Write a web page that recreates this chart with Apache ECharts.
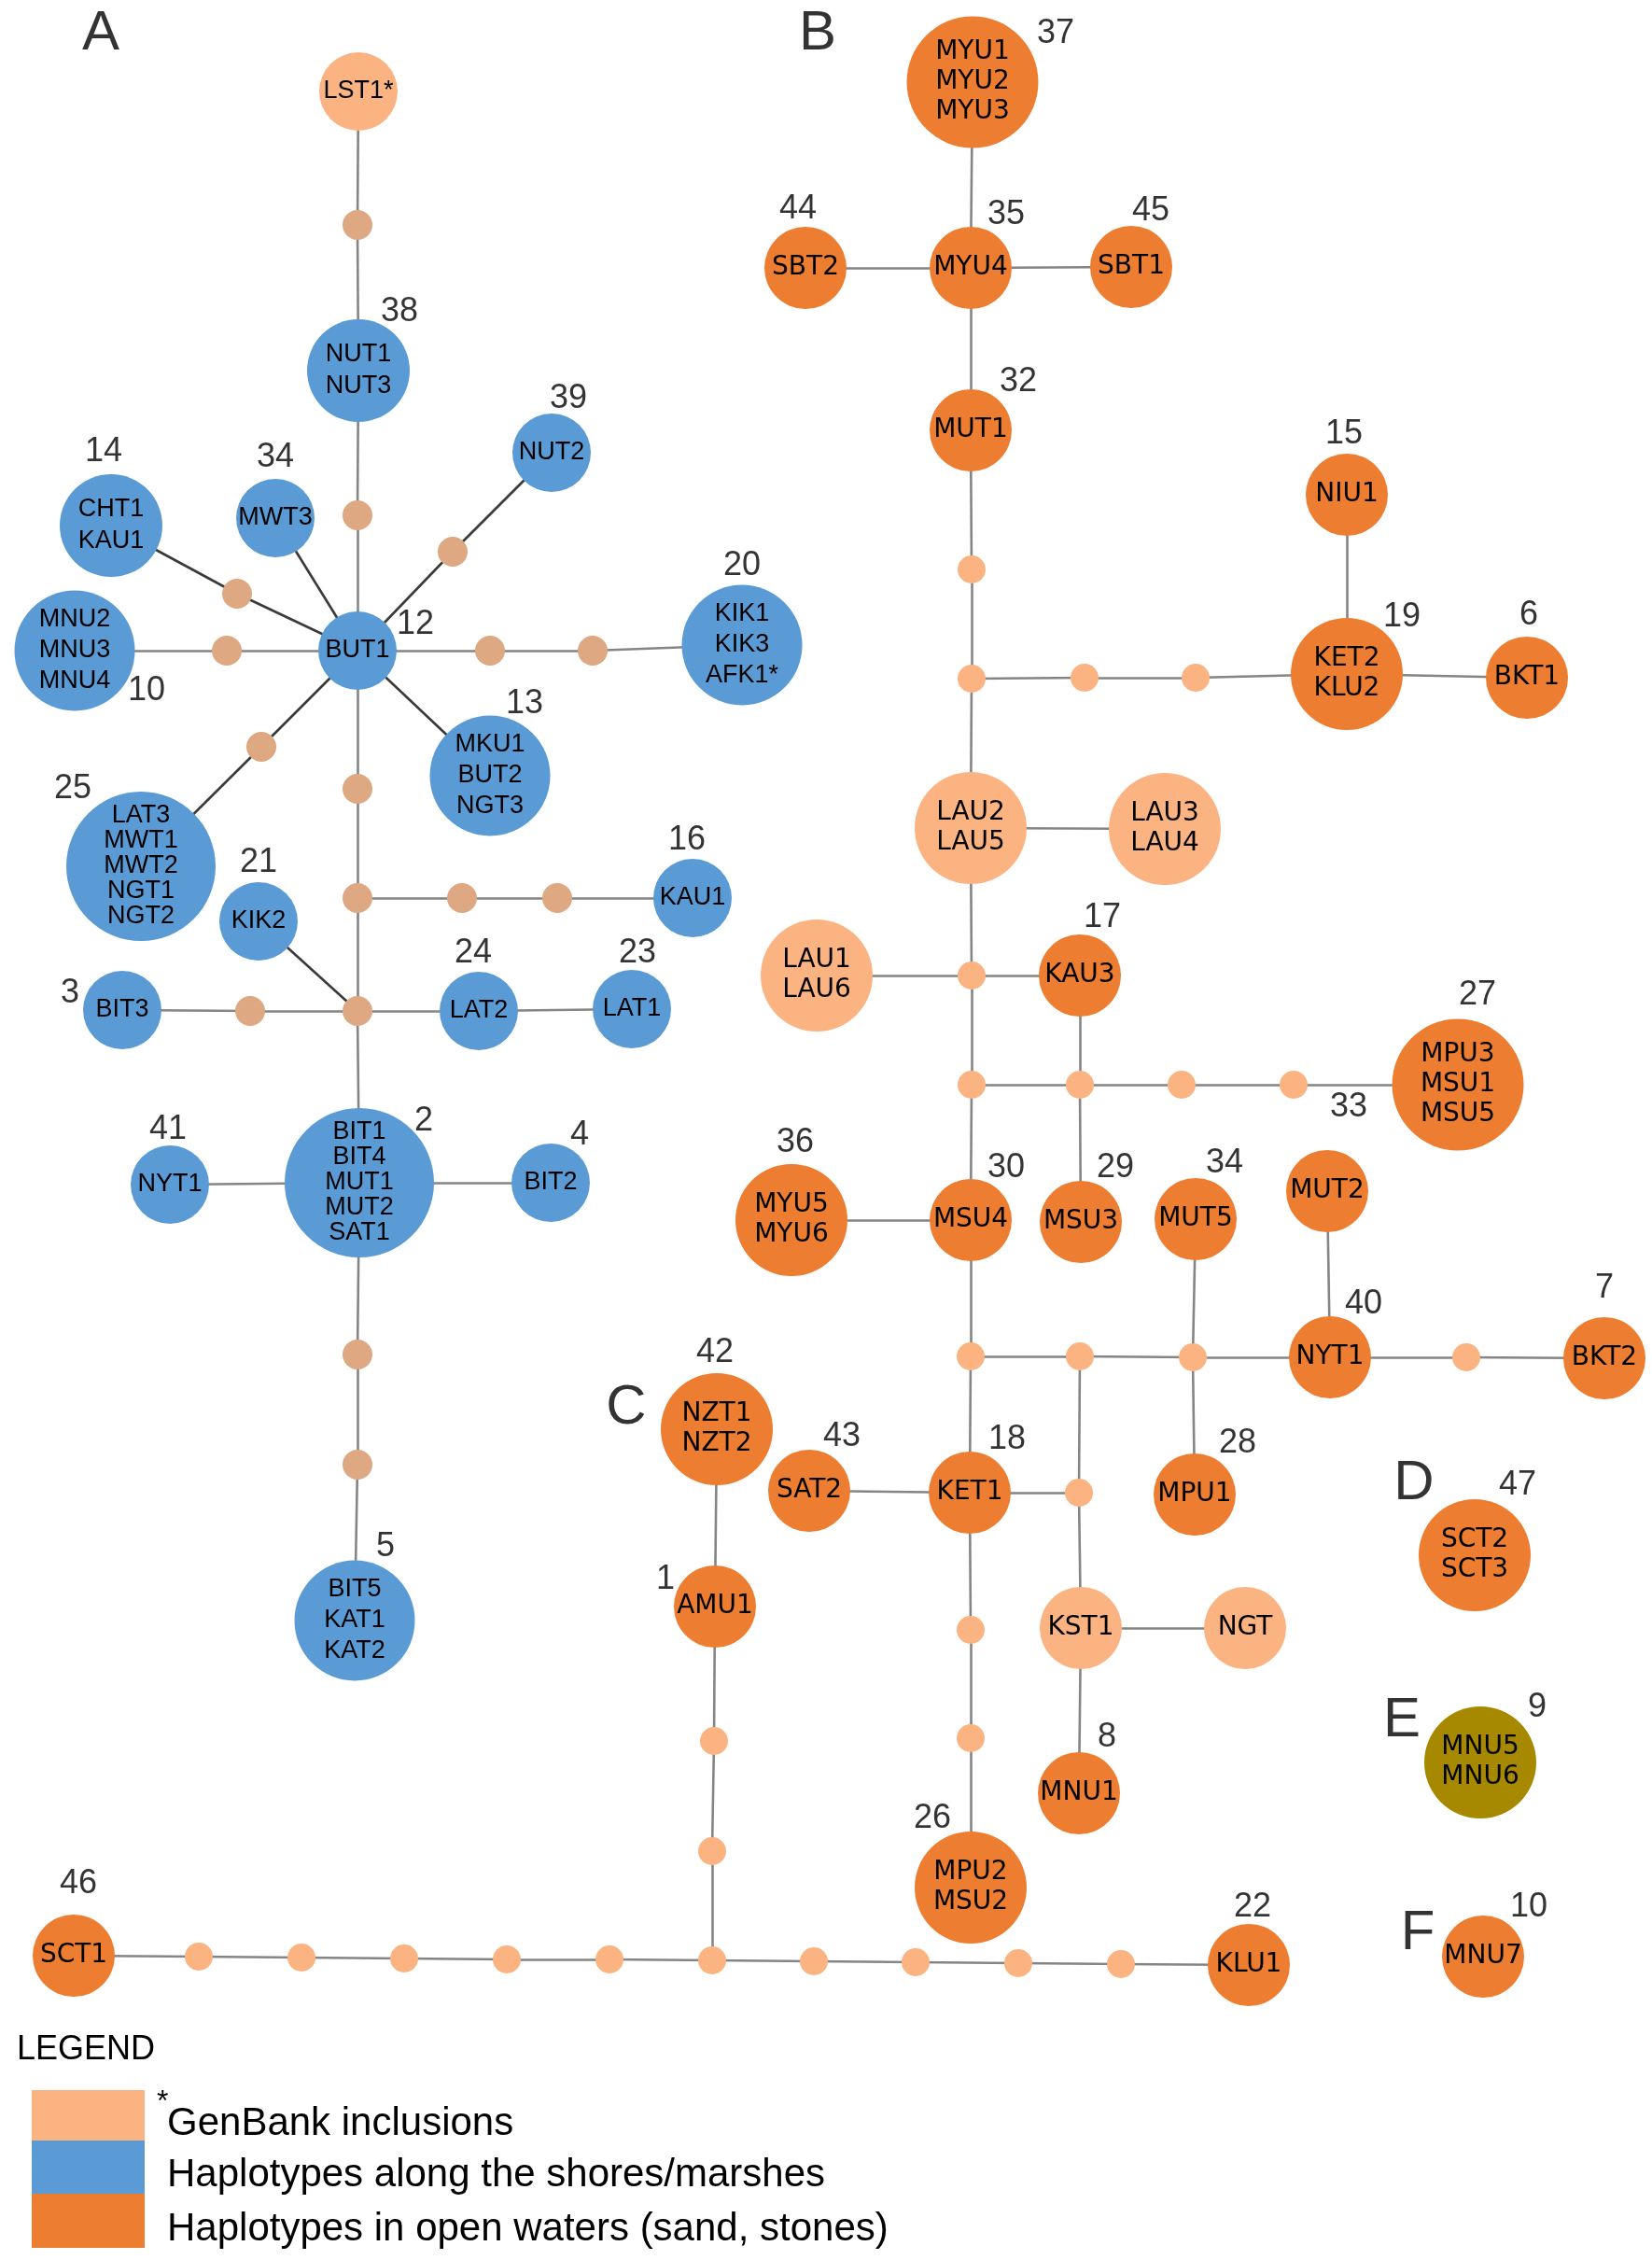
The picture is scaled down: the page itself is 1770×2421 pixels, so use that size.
<!DOCTYPE html>
<html>
<head>
<meta charset="utf-8">
<script src="https://cdn.jsdelivr.net/npm/echarts@6/dist/echarts.min.js"></script>
<style>
html,body{margin:0;padding:0;background:#fff;}
#chart{width:1770px;height:2421px;}
</style>
</head>
<body>
<div id="chart"></div>
<script>
// ---- Node data: [id, haplotype label ('|' separates lines), x, y, kind] ----
// kinds: shore = shores/marshes, open = open waters, gen = GenBank inclusion,
//        olive = panel E, dotA / dotB = median (missing) vectors
const nodesA = [
  ['a_lst','LST1*',384,98,'gen'],
  ['a_d1','',383,241,'dotA'],
  ['a_nut13','NUT1|NUT3',384,397,'shore'],
  ['a_d2','',383,552,'dotA'],
  ['a_but1','BUT1',383,697,'shore'],
  ['a_nut2','NUT2',591,485,'shore'],
  ['a_d3','',485,591,'dotA'],
  ['a_mwt3','MWT3',295,555,'shore'],
  ['a_cht','CHT1|KAU1',119,563,'shore'],
  ['a_d4','',254,636,'dotA'],
  ['a_mnu','MNU2|MNU3|MNU4',80,697,'shore'],
  ['a_d5','',243,697,'dotA'],
  ['a_d6','',525,697,'dotA'],
  ['a_d7','',635,697,'dotA'],
  ['a_kik','KIK1|KIK3|AFK1*',795,691,'shore'],
  ['a_mku','MKU1|BUT2|NGT3',525,831,'shore'],
  ['a_d8','',280,800,'dotA'],
  ['a_lat3','LAT3|MWT1|MWT2|NGT1|NGT2',151,928,'shore'],
  ['a_d9','',383,845,'dotA'],
  ['a_j1','',383,962,'dotA'],
  ['a_d10','',495,962,'dotA'],
  ['a_d11','',597,962,'dotA'],
  ['a_kau1','KAU1',742,962,'shore'],
  ['a_kik2','KIK2',277,987,'shore'],
  ['a_j2','',383,1083,'dotA'],
  ['a_bit3','BIT3',131,1082,'shore'],
  ['a_d12','',268,1083,'dotA'],
  ['a_lat2','LAT2',513,1083,'shore'],
  ['a_lat1','LAT1',677,1081,'shore'],
  ['a_bit1','BIT1|BIT4|MUT1|MUT2|SAT1',385,1267,'shore'],
  ['a_nyt1','NYT1',182,1269,'shore'],
  ['a_bit2','BIT2',590,1267,'shore'],
  ['a_d13','',383,1451,'dotA'],
  ['a_d14','',383,1569,'dotA'],
  ['a_bit5','BIT5|KAT1|KAT2',380,1736,'shore']
];
const nodesB = [
  ['b_myu13','MYU1|MYU2|MYU3',1042,88,'open'],
  ['b_myu4','MYU4',1040,287,'open'],
  ['b_sbt2','SBT2',863,287,'open'],
  ['b_sbt1','SBT1',1212,286,'open'],
  ['b_mut1','MUT1',1040,461,'open'],
  ['b_d1','',1041,610,'dotB'],
  ['b_j1','',1041,727,'dotB'],
  ['b_d2','',1162,726,'dotB'],
  ['b_d3','',1281,726,'dotB'],
  ['b_ket2','KET2|KLU2',1443,722,'open'],
  ['b_niu1','NIU1',1443,530,'open'],
  ['b_bkt1','BKT1',1636,726,'open'],
  ['b_lau25','LAU2|LAU5',1040,887,'gen'],
  ['b_lau34','LAU3|LAU4',1248,888,'gen'],
  ['b_lau16','LAU1|LAU6',875,1045,'gen'],
  ['b_j2','',1041,1045,'dotB'],
  ['b_kau3','KAU3',1157,1045,'open'],
  ['b_j3','',1041,1162,'dotB'],
  ['b_j4','',1157,1162,'dotB'],
  ['b_d4','',1266,1162,'dotB'],
  ['b_d5','',1386,1162,'dotB'],
  ['b_mpu3','MPU3|MSU1|MSU5',1562,1162,'open'],
  ['b_msu4','MSU4',1040,1307,'open'],
  ['b_myu56','MYU5|MYU6',848,1307,'open'],
  ['b_msu3','MSU3',1158,1309,'open'],
  ['b_mut5','MUT5',1281,1306,'open'],
  ['b_mut2','MUT2',1422,1276,'open'],
  ['b_j5','',1040,1453,'dotB'],
  ['b_j6','',1157,1453,'dotB'],
  ['b_j7','',1278,1454,'dotB'],
  ['b_nyt1','NYT1',1425,1454,'open'],
  ['b_d6','',1571,1454,'dotB'],
  ['b_bkt2','BKT2',1719,1455,'open'],
  ['b_ket1','KET1',1039,1599,'open'],
  ['b_sat2','SAT2',867,1597,'open'],
  ['b_j8','',1156,1599,'dotB'],
  ['b_mpu1','MPU1',1280,1601,'open'],
  ['b_kst1','KST1',1158,1744,'gen'],
  ['b_ngt','NGT',1334,1744,'gen'],
  ['b_mnu1','MNU1',1156,1921,'open'],
  ['b_d7','',1040,1746,'dotB'],
  ['b_d8','',1040,1862,'dotB'],
  ['b_mpu2','MPU2|MSU2',1040,2022,'open']
];
const nodesC = [
  ['c_nzt','NZT1|NZT2',768,1531,'open'],
  ['c_amu1','AMU1',766,1721,'open'],
  ['c_d1','',765,1865,'dotB'],
  ['c_d2','',763,1983,'dotB'],
  ['c_j','',763,2100,'dotB'],
  ['c_sct1','SCT1',79,2095,'open'],
  ['c_l1','',213,2096,'dotB'],
  ['c_l2','',323,2097,'dotB'],
  ['c_l3','',433,2098,'dotB'],
  ['c_l4','',543,2099,'dotB'],
  ['c_l5','',653,2099,'dotB'],
  ['c_r1','',872,2101,'dotB'],
  ['c_r2','',981,2102,'dotB'],
  ['c_r3','',1091,2103,'dotB'],
  ['c_r4','',1201,2104,'dotB'],
  ['c_klu1','KLU1',1338,2105,'open']
];
const nodesDEF = [
  ['d_sct','SCT2|SCT3',1580,1666,'open'],
  ['e_mnu','MNU5|MNU6',1586,1888,'olive'],
  ['f_mnu7','MNU7',1589,2096,'open']
];

// ---- Links (mutational steps) ----
const linksA = [
  ['a_lst','a_d1'],['a_d1','a_nut13'],['a_nut13','a_d2'],['a_d2','a_but1'],
  ['a_nut2','a_d3'],['a_d3','a_but1'],['a_mwt3','a_but1'],['a_cht','a_d4'],['a_d4','a_but1'],
  ['a_mnu','a_d5'],['a_d5','a_but1'],['a_but1','a_d6'],['a_d6','a_d7'],['a_d7','a_kik'],
  ['a_but1','a_mku'],['a_but1','a_d8'],['a_d8','a_lat3'],['a_but1','a_d9'],['a_d9','a_j1'],
  ['a_j1','a_d10'],['a_d10','a_d11'],['a_d11','a_kau1'],['a_j1','a_j2'],['a_kik2','a_j2'],
  ['a_bit3','a_d12'],['a_d12','a_j2'],['a_j2','a_lat2'],['a_lat2','a_lat1'],['a_j2','a_bit1'],
  ['a_nyt1','a_bit1'],['a_bit1','a_bit2'],['a_bit1','a_d13'],['a_d13','a_d14'],['a_d14','a_bit5']
];
const linksB = [
  ['b_myu13','b_myu4'],['b_sbt2','b_myu4'],['b_myu4','b_sbt1'],['b_myu4','b_mut1'],
  ['b_mut1','b_d1'],['b_d1','b_j1'],['b_j1','b_d2'],['b_d2','b_d3'],['b_d3','b_ket2'],
  ['b_niu1','b_ket2'],['b_ket2','b_bkt1'],['b_j1','b_lau25'],['b_lau25','b_lau34'],
  ['b_lau25','b_j2'],['b_lau16','b_j2'],['b_j2','b_kau3'],['b_j2','b_j3'],['b_kau3','b_j4'],
  ['b_j3','b_j4'],['b_j4','b_d4'],['b_d4','b_d5'],['b_d5','b_mpu3'],['b_j4','b_msu3'],
  ['b_j3','b_msu4'],['b_myu56','b_msu4'],['b_msu4','b_j5'],['b_j5','b_j6'],['b_j6','b_j7'],
  ['b_j7','b_nyt1'],['b_nyt1','b_d6'],['b_d6','b_bkt2'],['b_mut5','b_j7'],['b_j7','b_mpu1'],
  ['b_mut2','b_nyt1'],['b_j5','b_ket1'],['b_sat2','b_ket1'],['b_ket1','b_j8'],['b_j6','b_j8'],
  ['b_j8','b_kst1'],['b_kst1','b_ngt'],['b_kst1','b_mnu1'],['b_ket1','b_d7'],['b_d7','b_d8'],
  ['b_d8','b_mpu2']
];
const linksC = [
  ['c_nzt','c_amu1'],['c_amu1','c_d1'],['c_d1','c_d2'],['c_d2','c_j'],
  ['c_sct1','c_l1'],['c_l1','c_l2'],['c_l2','c_l3'],['c_l3','c_l4'],['c_l4','c_l5'],['c_l5','c_j'],
  ['c_j','c_r1'],['c_r1','c_r2'],['c_r2','c_r3'],['c_r3','c_r4'],['c_r4','c_klu1']
];

// ---- Haplogroup numbers: [text, x, y] ----
const numberLabels = [
  ['38',428,334],['39',609,427],['34',295,490],['14',111,484],['12',445,669],['10',157,740],
  ['20',795,606],['13',562,754],['25',78,845],['16',736,900],['21',277,924],['3',75,1064],
  ['24',507,1021],['23',683,1021],['2',454,1201],['41',180,1210],['4',621,1216],['5',413,1657],
  ['37',1131,36],['44',855,224],['35',1078,230],['45',1233,226],['32',1091,409],['15',1440,465],
  ['19',1502,661],['6',1638,659],['17',1181,983],['27',1583,1066],['33',1445,1186],
  ['36',852,1224],['30',1078,1251],['29',1195,1251],['34',1312,1246],['40',1461,1397],
  ['7',1719,1380],['18',1079,1542],['28',1326,1546],['8',1186,1861],['26',999,1948],
  ['42',766,1449],['43',902,1539],['1',713,1692],['46',84,2018],['22',1342,2043],
  ['47',1626,1591],['9',1647,1829],['10',1638,2043]
];
// ---- Panel letters: [text, x, y] ----
const panelLetters = [
  ['A',108,36],['B',876,36],['C',671,1508],['D',1515,1589],['E',1502,1843],['F',1519,2071]
];
// ---- Legend entries ----
const legendItems = ['GenBank inclusions','Haplotypes along the shores/marshes','Haplotypes in open waters (sand, stones)'];

// ---------------- styling rules ----------------
const COLORS = {shore:'#5B9BD5', open:'#ED7D31', gen:'#FCB382', olive:'#A78900', dotA:'#DDA882', dotB:'#FCB382'};
function nodeSize(kind, lines, panelA){
  if (kind === 'dotA') return 32;
  if (kind === 'dotB') return 30;
  if (panelA) return ({1:84, 2:110, 3:129, 5:160})[lines] || 84;
  return ({1:88, 2:120, 3:141})[lines] || 88;
}

const allNodes = [];
[[nodesA,true],[nodesB,false],[nodesC,false],[nodesDEF,false]].forEach(([arr,isA]) => {
  arr.forEach(n => allNodes.push({id:n[0], label:n[1], x:n[2], y:n[3], kind:n[4], isA:isA}));
});
const indexOf = {};
allNodes.forEach((n,i) => indexOf[n.id] = i);

const graphData = allNodes.map(n => {
  const lines = n.label ? n.label.split('|').length : 0;
  const isDot = n.kind === 'dotA' || n.kind === 'dotB';
  return {
    id: n.id,
    name: n.id,
    value: [n.x, n.y],
    symbolSize: nodeSize(n.kind, lines, n.isA),
    itemStyle: {color: COLORS[n.kind]},
    label: isDot ? {show:false} : {
      show: true,
      position: 'inside',
      formatter: n.label.split('|').join('\n'),
      fontFamily: n.isA ? 'Liberation Sans' : 'DejaVu Sans',
      fontSize: n.isA ? 27 : 28,
      lineHeight: lines >= 5 ? 27 : (n.isA ? (lines === 3 ? 33 : 34) : 32),
      color: '#000',
      textBorderWidth: 0
    }
  };
});

const graphLinks = [];
[linksA, linksB, linksC].forEach((arr, k) => {
  arr.forEach(([s,t]) => {
    const a = allNodes[indexOf[s]], b = allNodes[indexOf[t]];
    const diagonal = Math.abs(a.x - b.x) > 12 && Math.abs(a.y - b.y) > 12;
    graphLinks.push({
      source: indexOf[s], target: indexOf[t],
      lineStyle: {color: diagonal ? '#3a3a3a' : '#858585', width: 2.6, opacity: 1, curveness: 0}
    });
  });
});

const chart = echarts.init(document.getElementById('chart'), null, {renderer:'canvas'});
const legX = 34, legW = 121, legTops = [2239, 2293, 2350], legBottoms = [2293, 2350, 2408];
const legColors = [COLORS.gen, COLORS.shore, COLORS.open];
const graphics = [
  {type:'text', left: 18, top: 2178, style:{text:'LEGEND', font:'36px "Liberation Sans"', fill:'#000'}}
];
legendItems.forEach((t,i) => {
  graphics.push({type:'rect', shape:{x:legX, y:legTops[i], width:legW, height:legBottoms[i]-legTops[i]}, style:{fill:legColors[i]}});
  graphics.push({type:'text', x:179, y:(legTops[i]+legBottoms[i])/2 + 9, style:{text:t, font:'42px "Liberation Sans"', fill:'#000', textVerticalAlign:'middle', verticalAlign:'middle'}});
});
graphics.push({type:'text', x:168, y:2236, style:{text:'*', font:'32px "Liberation Sans"', fill:'#000'}});

chart.setOption({
  animation: false,
  backgroundColor: '#fff',
  grid: {left:0, right:0, top:0, bottom:0, containLabel:false},
  xAxis: {type:'value', min:0, max:1770, show:false},
  yAxis: {type:'value', min:0, max:2421, inverse:true, show:false},
  graphic: graphics,
  series: [
    {
      type: 'graph',
      layout: 'none',
      coordinateSystem: 'cartesian2d',
      roam: false,
      data: graphData,
      links: graphLinks,
      emphasis: {disabled: true},
      z: 2
    },
    {
      type: 'scatter',
      symbolSize: 1,
      itemStyle: {color:'rgba(0,0,0,0)'},
      data: numberLabels.map(d => ({value:[d[1], d[2]], name:d[0]})),
      label: {show:true, position:'inside', formatter: p => p.name, fontFamily:'Liberation Sans', fontSize:36, color:'#000', textBorderWidth:0},
      silent: true,
      z: 3
    },
    {
      type: 'scatter',
      symbolSize: 1,
      itemStyle: {color:'rgba(0,0,0,0)'},
      data: panelLetters.map(d => ({value:[d[1], d[2]], name:d[0]})),
      label: {show:true, position:'inside', formatter: p => p.name, fontFamily:'Liberation Sans', fontSize:60, color:'#000', textBorderWidth:0},
      silent: true,
      z: 3
    }
  ]
});
</script>
</body>
</html>
